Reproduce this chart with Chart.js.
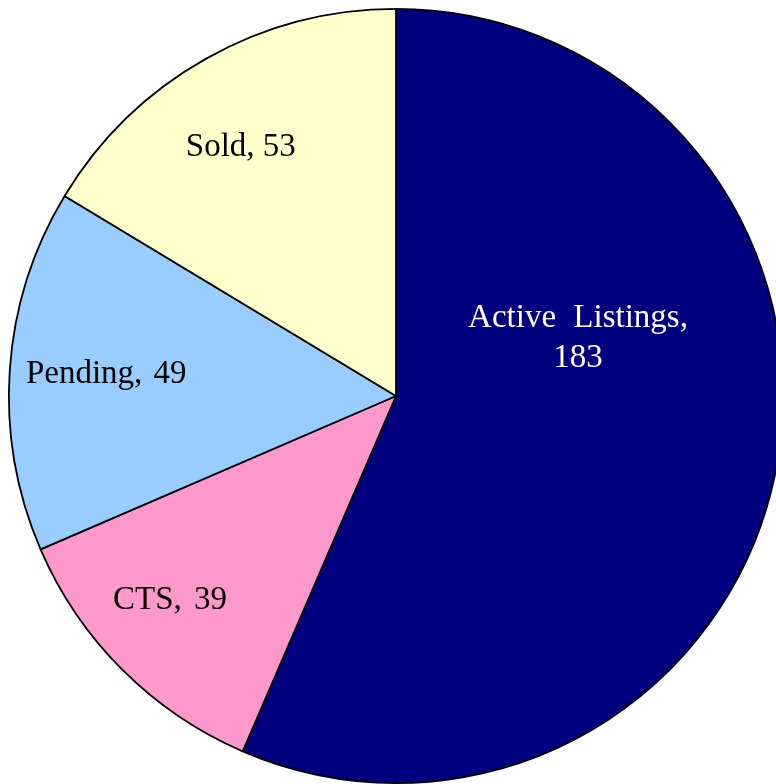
<!DOCTYPE html>
<html>
<head>
<meta charset="utf-8">
<script src="https://cdn.jsdelivr.net/npm/chart.js@4/dist/chart.umd.min.js"></script>
<style>
html,body{margin:0;padding:0;background:#fff;overflow:hidden;width:776px;height:784px;}
#wrap{position:absolute;left:0;top:0;width:792px;height:792px;}
</style>
</head>
<body>
<div id="wrap"><canvas id="c" width="792" height="792"></canvas></div>
<script>
const categories = ["Active Listings", "CTS", "Pending", "Sold"];
const values = [183, 39, 49, 53];
const colors = ["#000080", "#FF99CC", "#99CCFF", "#FFFFCC"];
const labelColors = ["#FFFFFF", "#000000", "#000000", "#000000"];

// label placement: angle offset from slice middle (deg), fraction of radius, extra word gap
const labelPlace = [[-29.9, 0.495, 9], [3.2, 0.783, 4], [0.8, 0.751, 3], [-2.3, 0.762, 0]];

const pieLabels = {
  id: 'pieLabels',
  afterDatasetsDraw(chart) {
    const ctx = chart.ctx;
    const meta = chart.getDatasetMeta(0);
    ctx.save();
    ctx.font = '33px "Liberation Serif", "Times New Roman", serif';
    ctx.textAlign = 'center';
    ctx.textBaseline = 'alphabetic';
    meta.data.forEach((arc, i) => {
      const p = arc.getProps(['x','y','startAngle','endAngle','outerRadius'], true);
      const mid = (p.startAngle + p.endAngle) / 2 + labelPlace[i][0] * Math.PI / 180;
      const r = p.outerRadius * labelPlace[i][1];
      const x = p.x + Math.cos(mid) * r;
      const y = p.y + Math.sin(mid) * r;
      ctx.fillStyle = labelColors[i];
      ctx.wordSpacing = labelPlace[i][2] + 'px';
      const lines = i === 0 ? [categories[i] + ',', String(values[i])] : [categories[i] + ', ' + values[i]];
      const lh = 40;
      const startY = y - (lines.length - 1) * lh / 2 + 11;
      lines.forEach((t, k) => ctx.fillText(t, x, startY + k * lh));
    });
    ctx.restore();
  }
};

new Chart(document.getElementById('c'), {
  type: 'pie',
  data: {
    labels: categories,
    datasets: [{
      data: values,
      backgroundColor: colors,
      borderColor: '#000000',
      borderWidth: 1.8,
      hoverOffset: 0
    }]
  },
  options: {
    responsive: false,
    animation: false,
    layout: { padding: 8 },
    plugins: { legend: { display: false }, tooltip: { enabled: false } }
  },
  plugins: [pieLabels]
});
</script>
</body>
</html>
